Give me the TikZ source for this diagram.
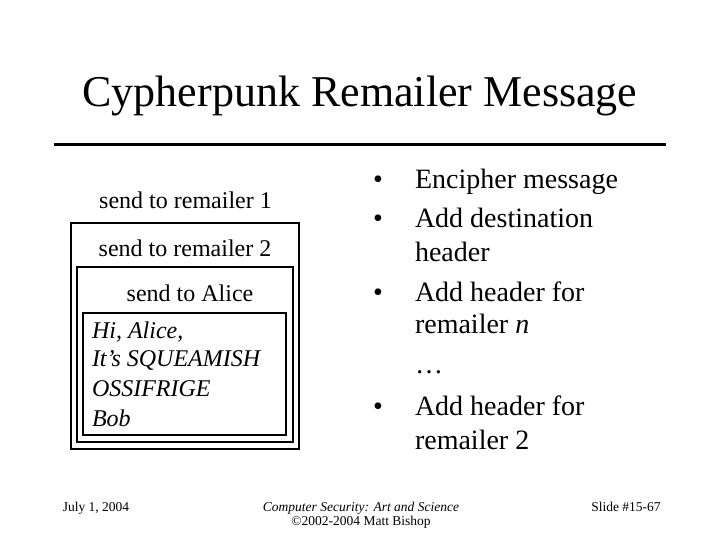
\documentclass[tikz,border=0pt]{standalone}
\usepackage{fontspec}
\setmainfont{Liberation Serif}
\begin{document}
\begin{tikzpicture}[x=1pt,y=-1pt,
  txt/.style={inner sep=0pt,outer sep=0pt},
  titlefont/.style={txt,font=\fontsize{44}{50}\selectfont},
  boxfont/.style={txt,font=\fontsize{24}{28}\selectfont},
  msgfont/.style={txt,font=\fontsize{24}{28}\selectfont\itshape},
  bulfont/.style={txt,font=\fontsize{28}{33}\selectfont},
  footfont/.style={txt,font=\fontsize{13.5}{15}\selectfont},
  frame/.style={draw=black,line width=1.3pt}]
\useasboundingbox (0,0) rectangle (720,540);
\fill[white] (0,0) rectangle (720,540);
% title
\node[titlefont,anchor=base] (title) at (360,107) {Cypherpunk Remailer Message};
\coordinate (rl) at (54,144.5);
\coordinate (rr) at (666,144.5);
\draw[line width=3pt] (rl) -- (rr);
% nested boxes
\draw[frame] (71,223) rectangle (299,449);
\draw[frame] (77,267) rectangle (293,442);
\draw[frame] (83,313) rectangle (286,435);
\node[boxfont,anchor=base] (s1) at (185.5,209) {send to remailer 1};
\node[boxfont,anchor=base] (s2) at (185,256) {send to remailer 2};
\node[boxfont,anchor=base] (s3) at (190,301) {send to Alice};
\node[msgfont,anchor=base west] (m1) at (92,338) {Hi, Alice,};
\node[msgfont,anchor=base west] (m2) at (92,366) {It’s SQUEAMISH};
\node[msgfont,anchor=base west] (m3) at (92,396) {OSSIFRIGE};
\node[msgfont,anchor=base west] (m4) at (92,426) {Bob};
% bullets
\node[bulfont,anchor=base] (b1) at (378,189) {•};
\node[bulfont,anchor=base] (b2) at (378,227) {•};
\node[bulfont,anchor=base] (b3) at (378,301) {•};
\node[bulfont,anchor=base] (b4) at (378,415) {•};
\node[bulfont,anchor=base west] (t1) at (415,189) {Encipher message};
\node[bulfont,anchor=base west] (t2) at (415,227) {Add destination};
\node[bulfont,anchor=base west] (t2b) at (415,261) {header};
\node[bulfont,anchor=base west] (t3) at (415,301) {Add header for};
\node[bulfont,anchor=base west] (t3b) at (415,333) {remailer \textit{n}};
\node[bulfont,anchor=base west] (dots) at (415,373) {…};
\node[bulfont,anchor=base west] (t4) at (415,415) {Add header for};
\node[bulfont,anchor=base west] (t4b) at (415,449) {remailer 2};
% footer
\node[footfont,anchor=base] (date) at (96,511) {July 1, 2004};
\node[footfont,anchor=base] (book) at (361,511) {\textit{Computer Security: Art and Science}};
\node[footfont,anchor=base] (copy) at (361,525) {©2002-2004 Matt Bishop};
\node[footfont,anchor=base] (slide) at (626,511) {Slide \#15-67};
\end{tikzpicture}
\end{document}
